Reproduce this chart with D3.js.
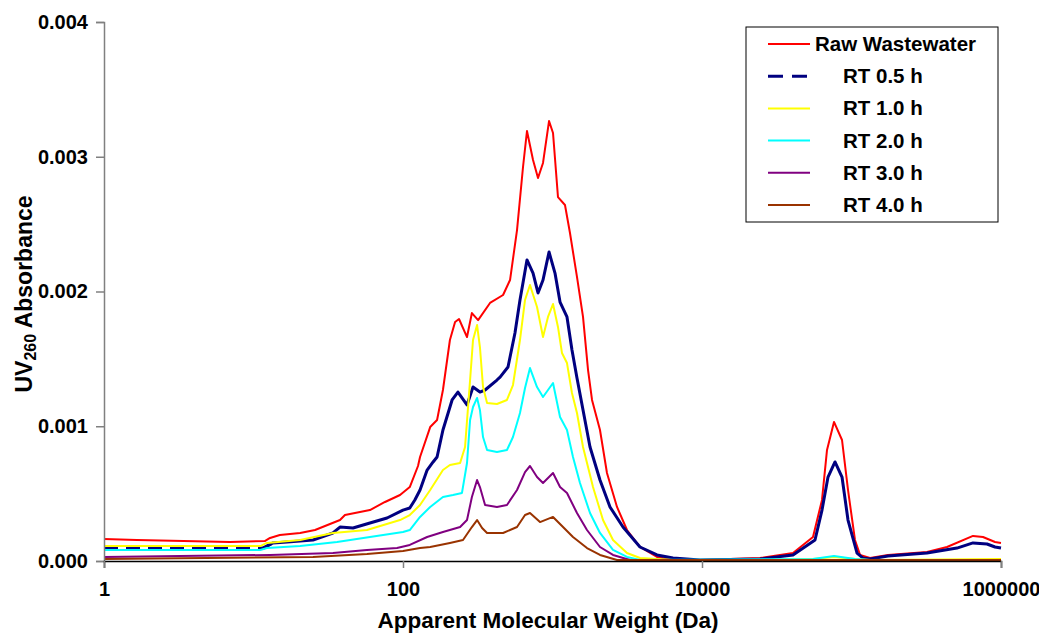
<!DOCTYPE html>
<html>
<head>
<meta charset="utf-8">
<script src="https://cdn.jsdelivr.net/npm/d3@7"></script>
<style>
  body { margin: 0; background: #fff; }
  text { font-family: "Liberation Sans", Arial, sans-serif; font-weight: bold; fill: #000; }
</style>
</head>
<body>
<div class="chart"></div>
<script>
// molecular weight (Da) and UV260 absorbance
const rawMW = [1, 1.66, 6.96, 11.9, 12.9, 15.0, 20.5, 25.8, 37.9, 40.9, 60.1, 75.8, 95.5, 111, 126, 130, 152, 169, 185, 206,
  223, 237, 268, 289, 318, 382, 467, 520, 579, 635, 675, 741, 800, 864, 948, 1008, 1088, 1212, 1309, 1458,
  1600, 1729, 1838, 2078, 2314, 2701, 3150, 3848, 5000, 6397, 9696, 24430, 40620, 55270, 63490, 68580, 76370, 86410, 94760, 105500,
  114000, 133000, 175400, 319900, 435400, 649800, 758000, 912000, 1000000];
const rawAbs = [0.000163, 0.000156, 0.000141, 0.000148, 0.000171, 0.000193, 0.000208, 0.000230, 0.000304, 0.000341,
  0.000378, 0.000438, 0.000490, 0.000549, 0.000705, 0.000772, 0.000994, 0.001046, 0.001269, 0.001640,
  0.001774, 0.001796, 0.001662, 0.001840, 0.001788, 0.001915, 0.001974, 0.002085, 0.002456, 0.002924,
  0.003191, 0.002976, 0.002842, 0.002954, 0.003265, 0.003176, 0.002701, 0.002642, 0.002434, 0.002108,
  0.001811, 0.001417, 0.001195, 0.000972, 0.000653, 0.000401, 0.000230, 0.000104, 0.000030, 0.000007,
  0.000007, 0.000022, 0.000059, 0.000178, 0.000453, 0.000824, 0.001032, 0.000898, 0.000527, 0.000156,
  0.000045, 0.000022, 0.000045, 0.000067, 0.000104, 0.000186, 0.000178, 0.000141, 0.000134];

const rt05MW = [1, 11.6, 13.5, 16.8, 25.0, 34.0, 37.9, 46.3, 60.1, 78.2, 100, 111, 120, 130, 145, 159, 169, 185, 213, 233,
  268, 294, 327, 354, 425, 446, 504, 561, 606, 675, 741, 800, 864, 948, 1039, 1123, 1250, 1350, 1458, 1782,
  2078, 2424, 2962, 3848, 5000, 6397, 9696, 24430, 40620, 57010, 63490, 69640, 77560, 86410, 94760, 108900, 119400, 133000, 175400, 319900,
  507700, 649800, 806000, 912000, 1000000];
const rt05Abs = [0.000096, 0.000096, 0.000134, 0.000141, 0.000156, 0.000208, 0.000252, 0.000245, 0.000282, 0.000319,
  0.000378, 0.000393, 0.000453, 0.000527, 0.000675, 0.000735, 0.000772, 0.000972, 0.001195, 0.001254,
  0.001158, 0.001291, 0.001254, 0.001269, 0.001343, 0.001365, 0.001440, 0.001692, 0.001937, 0.002234,
  0.002137, 0.001989, 0.002085, 0.002293, 0.002137, 0.001922, 0.001811, 0.001566, 0.001358, 0.000846,
  0.000601, 0.000401, 0.000252, 0.000104, 0.000045, 0.000022, 0.000007, 0.000015, 0.000045, 0.000156,
  0.000378, 0.000623, 0.000735, 0.000623, 0.000304, 0.000059, 0.000022, 0.000015, 0.000037, 0.000059,
  0.000096, 0.000134, 0.000126, 0.000104, 0.000096];

const rt10MW = [1, 11.1, 12.3, 20.5, 34.0, 57.4, 95.5, 111, 130, 152, 185, 206, 241, 260, 281, 294, 313, 327, 343, 365,
  425, 496, 544, 606, 655, 707, 788, 864, 933, 1008, 1088, 1157, 1250, 1350, 1458, 1600, 1866, 2177, 2539, 3150,
  3848, 6397, 24430, 55270, 76370, 105500, 133000, 1000000];
const rt10Abs = [0.000111, 0.000111, 0.000134, 0.000156, 0.000208, 0.000230, 0.000304, 0.000341, 0.000416, 0.000527,
  0.000675, 0.000712, 0.000727, 0.000846, 0.001343, 0.001640, 0.001751, 0.001588, 0.001291, 0.001173,
  0.001165, 0.001195, 0.001306, 0.001640, 0.001937, 0.002048, 0.001885, 0.001662, 0.001811, 0.001907,
  0.001737, 0.001544, 0.001469, 0.001247, 0.001098, 0.000846, 0.000549, 0.000304, 0.000156, 0.000059,
  0.000022, 0.000007, 0.000007, 0.000015, 0.000030, 0.000015, 0.000007, 0.000015];

const rt20MW = [1, 11.1, 12.3, 20.5, 36.2, 60.1, 100, 111, 130, 152, 185, 216, 248, 268, 281, 294, 313, 327, 343, 365,
  425, 496, 544, 606, 655, 707, 788, 864, 933, 1008, 1123, 1250, 1371, 1527, 1782, 2078, 2539, 3150, 3848, 55270,
  76370, 105500, 133000, 1000000];
const rt20Abs = [0.000082, 0.000082, 0.000096, 0.000111, 0.000141, 0.000178, 0.000215, 0.000230, 0.000327, 0.000401,
  0.000475, 0.000490, 0.000505, 0.000727, 0.001046, 0.001143, 0.001210, 0.001121, 0.000920, 0.000824,
  0.000809, 0.000824, 0.000920, 0.001098, 0.001284, 0.001432, 0.001291, 0.001217, 0.001269, 0.001321,
  0.001069, 0.000972, 0.000772, 0.000579, 0.000356, 0.000208, 0.000082, 0.000030, 0.000007, 0.000015,
  0.000037, 0.000015, 0.000007, 0.000007];

const rt30MW = [1, 12.9, 34.0, 57.4, 91.2, 111, 145, 185, 241, 268, 289, 313, 327, 354, 425, 496, 579, 655, 707, 788,
  864, 1008, 1123, 1250, 1458, 1701, 2078, 2539, 3299, 1000000];
const rt30Abs = [0.000030, 0.000045, 0.000059, 0.000082, 0.000096, 0.000119, 0.000178, 0.000215, 0.000252, 0.000304,
  0.000475, 0.000601, 0.000549, 0.000416, 0.000401, 0.000416, 0.000527, 0.000660, 0.000705, 0.000623,
  0.000579, 0.000653, 0.000549, 0.000505, 0.000356, 0.000230, 0.000104, 0.000045, 0.000007, 0.000007];

const rt40MW = [1, 25.0, 57.4, 100, 130, 152, 206, 252, 289, 313, 338, 365, 467, 579, 655, 707, 825, 1008, 1176, 1371,
  1701, 2078, 2701, 1000000];
const rt40Abs = [0.000015, 0.000030, 0.000052, 0.000074, 0.000096, 0.000104, 0.000134, 0.000156, 0.000252, 0.000304,
  0.000245, 0.000208, 0.000208, 0.000252, 0.000341, 0.000356, 0.000289, 0.000327, 0.000252, 0.000178,
  0.000096, 0.000045, 0.000007, 0.000007];

const seriesNames = ["Raw Wastewater", "RT 0.5 h", "RT 1.0 h", "RT 2.0 h", "RT 3.0 h", "RT 4.0 h"];
const xTicks = [1, 100, 10000, 1000000];
const yTicks = [0, 0.001, 0.002, 0.003, 0.004];

const colors = ["#ff0000", "#000080", "#ffff00", "#00ffff", "#800080", "#993300"];
const widths = [2, 3, 2, 2, 2, 2];

const series = [
  [rawMW, rawAbs], [rt05MW, rt05Abs], [rt10MW, rt10Abs],
  [rt20MW, rt20Abs], [rt30MW, rt30Abs], [rt40MW, rt40Abs]
].map(([mw, abs], i) => ({
  name: seriesNames[i],
  points: mw.map((m, j) => [m, abs[j]])
}));

const W = 1039, H = 635;
const margin = {top: 22, right: 38, bottom: 74, left: 104},
      width = W - margin.left - margin.right,
      height = H - margin.top - margin.bottom;

let svg = d3.select(".chart").append("svg")
  .attr("width", W)
  .attr("height", H);

let g = svg.append("g")
  .attr("transform", "translate(" + margin.left + "," + margin.top + ")");

let x = d3.scaleLog().domain([1, 1000000]).range([0, width]);
let y = d3.scaleLinear().domain([0, 0.004]).range([height, 0]);

let line = d3.line()
  .x((d) => x(d[0]))
  .y((d) => y(d[1]));

// series, legend order (Excel draws the first series underneath)
series.forEach((s, i) => {
  if (i === 1) {
    // 0.5 h is a dashed series: the dashes only show where the trace is flat
    let flat = s.points.filter((d) => d[0] <= 13.5);
    let rest = s.points.filter((d) => d[0] >= 11.6);
    g.append("path").attr("d", line(flat))
      .attr("fill", "none").attr("stroke", colors[i]).attr("stroke-width", widths[i])
      .attr("stroke-dasharray", "14,8");
    g.append("path").attr("d", line(rest))
      .attr("fill", "none").attr("stroke", colors[i]).attr("stroke-width", widths[i])
      .attr("stroke-linejoin", "round");
  } else {
    g.append("path").attr("d", line(s.points))
      .attr("fill", "none").attr("stroke", colors[i]).attr("stroke-width", widths[i])
      .attr("stroke-linejoin", "round");
  }
});

// y axis
let yAxis = g.append("g")
  .call(d3.axisLeft(y).tickValues(yTicks).tickFormat(d3.format(".3f")).tickSize(8).tickPadding(8));
yAxis.select(".domain").attr("stroke", "#808080").attr("stroke-width", 1.5);
yAxis.selectAll(".tick line").attr("stroke", "#808080").attr("stroke-width", 1.5);
yAxis.selectAll("text").attr("font-size", 20).attr("font-family", "Liberation Sans, Arial, sans-serif")
  .attr("font-weight", "bold");

// x axis
let xAxis = g.append("g")
  .attr("transform", "translate(0," + height + ")")
  .call(d3.axisBottom(x).tickValues(xTicks).tickFormat(d3.format("d")).tickSize(7).tickPadding(14));
xAxis.select(".domain").attr("stroke", "#000").attr("stroke-width", 1.5);
xAxis.selectAll(".tick line").attr("stroke", "#808080").attr("stroke-width", 1.5);
xAxis.selectAll("text").attr("font-size", 20).attr("font-family", "Liberation Sans, Arial, sans-serif")
  .attr("font-weight", "bold");

// axis titles
svg.append("text")
  .attr("x", 548)
  .attr("y", 628)
  .attr("text-anchor", "middle")
  .attr("font-size", 22.5)
  .text("Apparent Molecular Weight (Da)");

let yTitle = svg.append("text")
  .attr("transform", "translate(32,294) rotate(-90)")
  .attr("text-anchor", "middle")
  .attr("font-size", 23);
yTitle.append("tspan").text("UV");
yTitle.append("tspan").attr("font-size", 16).attr("dy", 4).text("260");
yTitle.append("tspan").attr("dy", -4).text(" Absorbance");

// legend
let legend = svg.append("g").attr("transform", "translate(746,27)");
legend.append("rect")
  .attr("width", 252).attr("height", 195)
  .attr("fill", "#fff").attr("stroke", "#000").attr("stroke-width", 1);

series.forEach((s, i) => {
  let row = legend.append("g").attr("transform", "translate(0," + (17 + i * 32.2) + ")");
  row.append("line")
    .attr("x1", 22).attr("x2", 64).attr("y1", 0).attr("y2", 0)
    .attr("stroke", colors[i]).attr("stroke-width", i === 1 ? 3 : 2)
    .attr("stroke-dasharray", i === 1 ? "15,9" : null);
  row.append("text")
    .attr("x", i === 0 ? 69 : 97)
    .attr("y", 7)
    .attr("font-size", 20.5)
    .text(s.name);
});
</script>
</body>
</html>
